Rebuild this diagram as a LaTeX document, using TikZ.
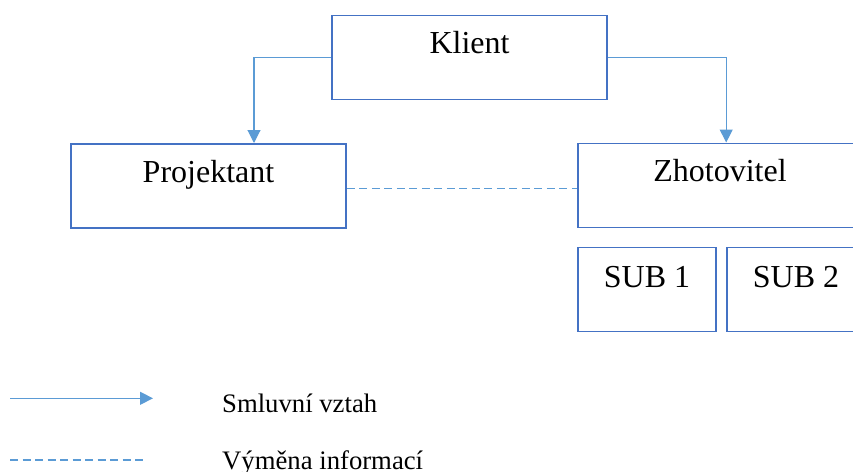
\documentclass[tikz,border=0pt]{standalone}
\usepackage{fontspec}
\setmainfont{Liberation Serif}
\usetikzlibrary{arrows.meta}
\definecolor{boxblue}{RGB}{68,114,196}
\definecolor{linkblue}{RGB}{91,155,213}
\begin{document}
\begin{tikzpicture}[x=1pt,y=-1pt,
  orgbox/.style={draw=boxblue, line width=1.6pt, fill=white,
    minimum width=#1, minimum height=84pt, inner sep=0pt,
    font=\fontsize{32}{32}\selectfont, text height=20pt, text depth=28pt},
  orgbox/.default=275pt,
  subbox/.style={orgbox=138pt, text depth=25pt},
  contract/.style={draw=linkblue, line width=1.1pt,
    -{Triangle[length=13pt,width=13pt]}},
  infoflow/.style={draw=linkblue, line width=1.1pt, dash pattern=on 8pt off 4.5pt},
  legendtext/.style={anchor=base west, inner sep=0pt,
    font=\fontsize{26.7}{26.7}\selectfont}]
  \useasboundingbox (0,0) rectangle (853,471);
  \clip (0,0) rectangle (853,471);

  % organisation boxes
  \node[orgbox] (klient) at (469.5,57.5) {Klient};
  \node[orgbox] (projektant) at (208.5,186.2) {Projektant};
  \node[orgbox=284pt] (zhotovitel) at (720,185.3) {Zhotovitel};
  \node[subbox] (sub1) at (647,289.5) {SUB 1};
  \node[subbox] (sub2) at (796,289.5) {SUB 2};

  % contractual relations
  \draw[contract] (klient.west) -| (254,143);
  \draw[contract] (klient.east) -| (zhotovitel.north -| sub2.west);

  % exchange of information
  \draw[infoflow] ([yshift=-2pt]projektant.east) -- ([yshift=-2pt]projektant.east -| zhotovitel.west);

  % legend
  \coordinate (la1) at (10,398.3);
  \coordinate (la2) at (153,398.3);
  \coordinate (lb1) at (10,460);
  \coordinate (lb2) at (145,460);
  \draw[contract] (la1) -- (la2);
  \draw[infoflow] (lb1) -- (lb2);
  \node[legendtext] (lt1) at (222,412) {Smluvní vztah};
  \node[legendtext] (lt2) at (222,469) {Výměna informací};
\end{tikzpicture}
\end{document}
